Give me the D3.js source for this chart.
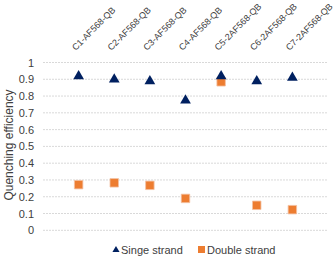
<!DOCTYPE html>
<html>
<head>
<meta charset="utf-8">
<script src="https://cdn.jsdelivr.net/npm/d3@7"></script>
<style>
body { margin: 0; background: #fff; }
text { font-family: "Liberation Sans", Arial, sans-serif; }
</style>
</head>
<body>
<svg width="335" height="262"></svg>
<script>
var categories = ["C1-AF568-QB", "C2-AF568-QB", "C3-AF568-QB", "C4-AF568-QB", "C5-2AF568-QB", "C6-2AF568-QB", "C7-2AF568-QB"];
var singleStrand = [0.925, 0.905, 0.895, 0.78, 0.925, 0.895, 0.915];
var doubleStrand = [0.272, 0.283, 0.268, 0.19, 0.885, 0.149, 0.123];
var yTicks = [0, 0.1, 0.2, 0.3, 0.4, 0.5, 0.6, 0.7, 0.8, 0.9, 1];
var seriesNames = ["Singe strand", "Double strand"];

var svg = d3.select("svg");

var x = d3.scalePoint().domain(categories).range([43, 328]).padding(1);
var y = d3.scaleLinear().domain([0, 1]).range([230.3, 62.5]);

// gridlines
svg.selectAll("line.grid").data(yTicks).enter()
    .append("line")
    .attr("x1", 43).attr("x2", 328)
    .attr("y1", function (d) { return y(d); })
    .attr("y2", function (d) { return y(d); })
    .attr("stroke", "#d9d9d9")
    .attr("stroke-width", 1)
    .attr("stroke-dasharray", "2,1");

// y tick labels
svg.selectAll("text.ytick").data(yTicks).enter()
    .append("text")
    .text(function (d) { return d; })
    .attr("x", 34)
    .attr("y", function (d) { return y(d) + 4; })
    .attr("text-anchor", "end")
    .attr("font-size", 11)
    .attr("fill", "#404040");

// y axis title
svg.append("text")
    .text("Quenching efficiency")
    .attr("transform", "translate(13,145) rotate(-90)")
    .attr("text-anchor", "middle")
    .attr("font-size", 12)
    .attr("fill", "#404040");

// category labels on top
svg.selectAll("text.cat").data(categories).enter()
    .append("text")
    .text(function (d) { return d; })
    .attr("transform", function (d) { return "translate(" + (x(d) - 3) + ",51) rotate(-45)"; })
    .attr("font-size", 9)
    .attr("fill", "#404040");

var tri = d3.symbol().type(d3.symbolTriangle).size(50);
var sq = d3.symbol().type(d3.symbolSquare).size(72);

// double strand squares
svg.selectAll("path.ds").data(doubleStrand).enter()
    .append("path")
    .attr("d", sq)
    .attr("transform", function (d, i) { return "translate(" + x(categories[i]) + "," + y(d) + ")"; })
    .attr("fill", "#ed7d31")
    .attr("stroke", "#f4c2a3")
    .attr("stroke-width", 0.8);

// single strand triangles
svg.selectAll("path.ss").data(singleStrand).enter()
    .append("path")
    .attr("d", tri)
    .attr("transform", function (d, i) { return "translate(" + x(categories[i]) + "," + (y(d) + 1) + ")"; })
    .attr("fill", "#002060");

// legend
svg.append("path")
    .attr("d", d3.symbol().type(d3.symbolTriangle).size(22))
    .attr("transform", "translate(116,250)")
    .attr("fill", "#002060");
svg.append("text")
    .text(seriesNames[0])
    .attr("x", 121).attr("y", 254)
    .attr("font-size", 11)
    .attr("fill", "#404040");
svg.append("rect")
    .attr("x", 198).attr("y", 246)
    .attr("width", 7).attr("height", 7)
    .attr("fill", "#ed7d31");
svg.append("text")
    .text(seriesNames[1])
    .attr("x", 207).attr("y", 254)
    .attr("font-size", 11)
    .attr("fill", "#404040");
</script>
</body>
</html>
